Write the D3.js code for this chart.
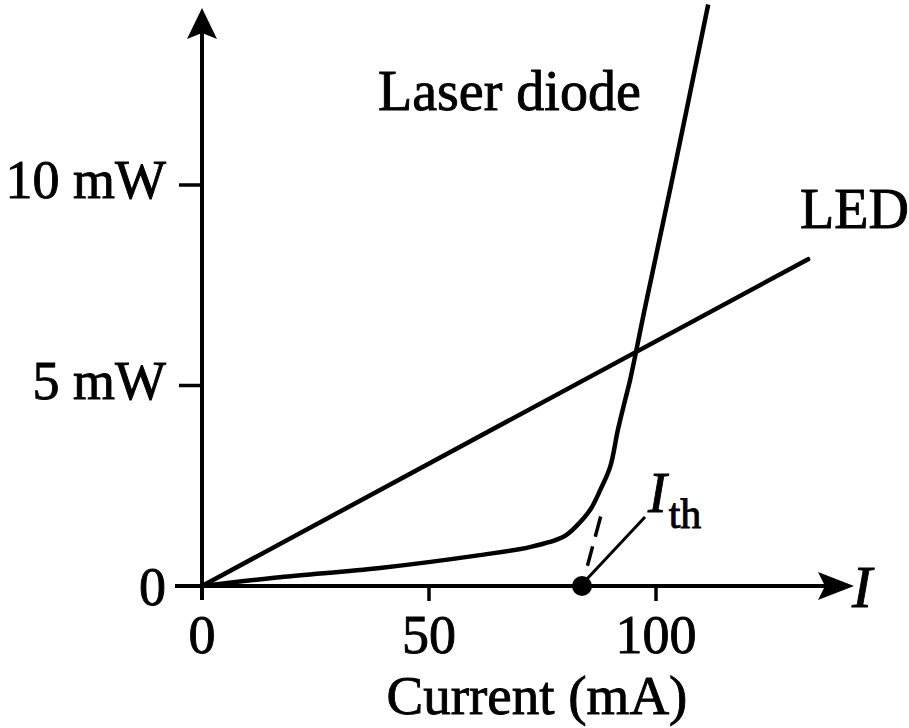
<!DOCTYPE html>
<html>
<head>
<meta charset="utf-8">
<script src="https://cdn.jsdelivr.net/npm/d3@7"></script>
<style>
  html, body { margin: 0; padding: 0; background: #fff; }
  svg { display: block; }
  text { font-family: "Liberation Serif", "DejaVu Serif", serif; fill: #000; stroke: #000; stroke-width: 0.9px; }
</style>
</head>
<body>
<svg id="chart" width="909" height="728"></svg>
<script>
// Optical output power vs drive current for an LED and a laser diode
const powerTicks = [0, 5, 10];
const powerTickLabels = ["0", "5 mW", "10 mW"];
const currentTicks = [0, 50, 100];
const currentTickLabels = ["0", "50", "100"];

const ledCurrent = [0, 133.5];
const ledPower = [0, 8.15];

const laserCurrent = [0, 17.2, 39.2, 61.2, 72.2, 79.5, 82.5, 85.5, 87.7, 89.9, 91.6, 93.2, 94.3, 97.6, 103.5, 111.5];
const laserPower   = [0, 0.22, 0.45, 0.77, 0.97, 1.22, 1.5, 1.9, 2.39, 2.97, 3.89, 4.64, 5.14, 6.95, 10.1, 14.5];

const thresholdCurrent = 83.7;
// extrapolated lasing line from threshold up to the knee
const thresholdLineCurrent = [83.7, 87.9];
const thresholdLinePower = [0, 1.77];

const svg = d3.select("#chart");
const x = d3.scaleLinear().domain([0, 100]).range([202, 656]);
const y = d3.scaleLinear().domain([0, 10]).range([586, 185]);

const ink = "#000";

// axes lines
svg.append("line")
  .attr("x1", x(0)).attr("x2", x(0))
  .attr("y1", y(0) + 14).attr("y2", 30)
  .attr("stroke", ink).attr("stroke-width", 4);
svg.append("line")
  .attr("x1", x(0) - 27).attr("x2", 830)
  .attr("y1", y(0)).attr("y2", y(0))
  .attr("stroke", ink).attr("stroke-width", 4);

// arrowheads
svg.append("path")
  .attr("d", `M${x(0)},8 L${x(0) + 15},39 L${x(0)},33 L${x(0) - 15},39 Z`)
  .attr("fill", ink);
svg.append("path")
  .attr("d", `M854,${y(0)} L818,${y(0) - 14} L825,${y(0)} L818,${y(0) + 14} Z`)
  .attr("fill", ink);

// y ticks and labels
svg.selectAll(".ytick").data(powerTicks.filter(d => d > 0)).join("line")
  .attr("class", "ytick")
  .attr("x1", x(0) - 23).attr("x2", x(0))
  .attr("y1", d => y(d)).attr("y2", d => y(d))
  .attr("stroke", ink).attr("stroke-width", 3.5);

svg.selectAll(".ylab").data(powerTicks).join("text")
  .attr("class", "ylab")
  .attr("x", 166)
  .attr("y", (d, i) => y(d) + (i === 0 ? 19 : 13))
  .attr("text-anchor", "end")
  .attr("font-size", 54)
  .text((d, i) => powerTickLabels[i]);

// x ticks and labels
svg.selectAll(".xtick").data(currentTicks.filter(d => d > 0)).join("line")
  .attr("class", "xtick")
  .attr("x1", d => x(d)).attr("x2", d => x(d))
  .attr("y1", y(0)).attr("y2", y(0) + 15)
  .attr("stroke", ink).attr("stroke-width", 3.5);

svg.selectAll(".xlab").data(currentTicks).join("text")
  .attr("class", "xlab")
  .attr("x", d => x(d))
  .attr("y", 653)
  .attr("text-anchor", "middle")
  .attr("font-size", 54)
  .text((d, i) => currentTickLabels[i]);

// axis titles
svg.append("text")
  .attr("x", 537).attr("y", 714)
  .attr("text-anchor", "middle")
  .attr("font-size", 55)
  .text("Current (mA)");

svg.append("text")
  .attr("x", 852).attr("y", 607)
  .attr("font-size", 60)
  .attr("font-style", "italic")
  .text("I");

// LED characteristic
const lineGen = d3.line().x(d => x(d[0])).y(d => y(d[1]));
svg.append("path")
  .datum(ledCurrent.map((c, i) => [c, ledPower[i]]))
  .attr("d", lineGen)
  .attr("fill", "none").attr("stroke", ink).attr("stroke-width", 4.5)
  .attr("stroke-linecap", "round");

// laser diode characteristic
const laserGen = d3.line().x(d => x(d[0])).y(d => y(d[1])).curve(d3.curveCatmullRom.alpha(0.5));
svg.append("path")
  .datum(laserCurrent.map((c, i) => [c, laserPower[i]]))
  .attr("d", laserGen)
  .attr("fill", "none").attr("stroke", ink).attr("stroke-width", 4.5)
  .attr("stroke-linejoin", "round");

// dashed extrapolation to threshold
svg.append("path")
  .datum(thresholdLineCurrent.map((c, i) => [c, thresholdLinePower[i]]))
  .attr("d", lineGen)
  .attr("fill", "none").attr("stroke", ink).attr("stroke-width", 3.5)
  .attr("stroke-dasharray", "0,21,20,10,21,100");

// threshold point
svg.append("circle")
  .attr("cx", x(thresholdCurrent)).attr("cy", y(0))
  .attr("r", 10).attr("fill", ink);

// leader to threshold label
svg.append("line")
  .attr("x1", x(thresholdCurrent) + 4).attr("y1", y(0) - 6)
  .attr("x2", 645).attr("y2", 517)
  .attr("stroke", ink).attr("stroke-width", 3);

const ith = svg.append("text").attr("x", 648).attr("y", 512).attr("font-size", 56);
ith.append("tspan").attr("font-style", "italic").text("I");
ith.append("tspan").attr("font-size", 42).attr("dx", 2).attr("dy", 16).text("th");

// curve labels
svg.append("text")
  .attr("x", 378).attr("y", 110)
  .attr("font-size", 56)
  .text("Laser diode");

svg.append("text")
  .attr("x", 800).attr("y", 228)
  .attr("font-size", 56)
  .text("LED");
</script>
</body>
</html>
